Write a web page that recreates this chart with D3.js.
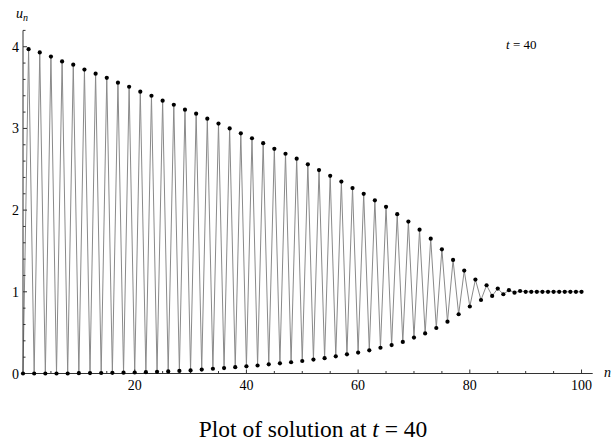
<!DOCTYPE html>
<html>
<head>
<meta charset="utf-8">
<script src="https://cdn.jsdelivr.net/npm/d3@7"></script>
<style>
  body { margin: 0; background: #fff; }
  svg text { font-family: "Liberation Serif", "DejaVu Serif", serif; }
</style>
</head>
<body>
<svg id="chart" width="616" height="443"></svg>
<script>
// u_n at t = 40, for n = 0 .. 100 (index = n)
const uValues = [
  0.00,
  3.97, 0.000, 3.93, 0.000, 3.88, 0.000, 3.82, 0.000, 3.78, 0.004,
  3.72, 0.005, 3.67, 0.006, 3.62, 0.008, 3.56, 0.010, 3.51, 0.012,
  3.45, 0.016, 3.40, 0.020, 3.34, 0.025, 3.29, 0.032, 3.23, 0.038,
  3.18, 0.048, 3.12, 0.058, 3.06, 0.067, 3.00, 0.078, 2.94, 0.088,
  2.88, 0.098, 2.82, 0.112, 2.75, 0.125, 2.69, 0.138, 2.63, 0.153,
  2.56, 0.170, 2.49, 0.188, 2.42, 0.210, 2.35, 0.235, 2.27, 0.256,
  2.20, 0.284, 2.12, 0.315, 2.04, 0.348, 1.95, 0.386, 1.86, 0.440,
  1.76, 0.490, 1.65, 0.557, 1.52, 0.634, 1.39, 0.725, 1.26, 0.820,
  1.15, 0.900, 1.08, 0.950, 1.04, 0.970, 1.02, 0.990, 1.01, 1.000,
  1.00, 1.000, 1.00, 1.000, 1.00, 1.000, 1.00, 1.000, 1.00, 1.000
];
const xMajorTicks = [20, 40, 60, 80, 100];
const xMinorTicks = [5, 10, 15, 25, 30, 35, 45, 50, 55, 65, 70, 75, 85, 90, 95];
const yMajorTicks = [0, 1, 2, 3, 4];
const yMinorTicks = [0.2, 0.4, 0.6, 0.8, 1.2, 1.4, 1.6, 1.8, 2.2, 2.4, 2.6, 2.8,
                     3.2, 3.4, 3.6, 3.8, 4.2];

const svg = d3.select('#chart');
const serif = '"Liberation Serif", "DejaVu Serif", serif';

const x = d3.scaleLinear().domain([0, 102]).range([23, 592.7]);
const y = d3.scaleLinear().domain([0, 4.2]).range([373.5, 30.4]);

const axisColor = '#333';

// data line
const line = d3.line()
    .x((d, i) => x(i))
    .y(d => y(d));

svg.append('path')
    .datum(uValues)
    .attr('d', line)
    .attr('fill', 'none')
    .attr('stroke', '#8a8a8a')
    .attr('stroke-width', 1);

// x axis (ticks point up)
const xAxis = svg.append('g').attr('class', 'x-axis');
xAxis.append('line')
    .attr('x1', x(0)).attr('x2', x(102))
    .attr('y1', y(0)).attr('y2', y(0))
    .attr('stroke', axisColor).attr('stroke-width', 1);
xAxis.selectAll('.xmaj').data(xMajorTicks).join('line')
    .attr('x1', d => x(d)).attr('x2', d => x(d))
    .attr('y1', y(0)).attr('y2', y(0) - 4)
    .attr('stroke', axisColor);
xAxis.selectAll('.xmin').data(xMinorTicks).join('line')
    .attr('x1', d => x(d)).attr('x2', d => x(d))
    .attr('y1', y(0)).attr('y2', y(0) - 2.5)
    .attr('stroke', axisColor);
xAxis.selectAll('text').data(xMajorTicks).join('text')
    .attr('x', d => x(d))
    .attr('y', y(0) + 16)
    .attr('text-anchor', 'middle')
    .attr('font-family', serif)
    .style('font-size', '14px')
    .text(d => d);

// y axis
const yAxis = svg.append('g').attr('class', 'y-axis');
yAxis.append('line')
    .attr('x1', x(0)).attr('x2', x(0))
    .attr('y1', y(0)).attr('y2', y(4.2))
    .attr('stroke', axisColor).attr('stroke-width', 1);
yAxis.selectAll('.ymaj').data(yMajorTicks).join('line')
    .attr('x1', x(0)).attr('x2', x(0) + 4)
    .attr('y1', d => y(d)).attr('y2', d => y(d))
    .attr('stroke', axisColor);
yAxis.selectAll('.ymin').data(yMinorTicks).join('line')
    .attr('x1', x(0)).attr('x2', x(0) + 2.5)
    .attr('y1', d => y(d)).attr('y2', d => y(d))
    .attr('stroke', axisColor);
yAxis.selectAll('text').data(yMajorTicks).join('text')
    .attr('x', x(0) - 4)
    .attr('y', d => y(d) + 5)
    .attr('text-anchor', 'end')
    .attr('font-family', serif)
    .style('font-size', '14px')
    .text(d => d);

// points
svg.append('g').selectAll('circle').data(uValues).join('circle')
    .attr('cx', (d, i) => x(i))
    .attr('cy', d => y(d))
    .attr('r', 2.1)
    .attr('fill', '#000');

// axis labels
const uLabel = svg.append('text')
    .attr('x', 16).attr('y', 18)
    .attr('font-family', serif)
    .style('font-size', '14px')
    .style('font-style', 'italic');
uLabel.append('tspan').text('u');
uLabel.append('tspan').attr('dy', 3).style('font-size', '10px').text('n');

svg.append('text')
    .attr('x', 604).attr('y', 377)
    .attr('font-family', serif)
    .style('font-size', '14px')
    .style('font-style', 'italic')
    .text('n');

// time annotation
const tLabel = svg.append('text')
    .attr('x', 506).attr('y', 49)
    .attr('font-family', serif)
    .style('font-size', '13px');
tLabel.append('tspan').style('font-style', 'italic').text('t');
tLabel.append('tspan').text(' = 40');

// caption
const cap = svg.append('text')
    .attr('x', 313).attr('y', 437)
    .attr('text-anchor', 'middle')
    .attr('font-family', serif)
    .style('font-size', '23.5px');
cap.append('tspan').text('Plot of solution at ');
cap.append('tspan').style('font-style', 'italic').text('t');
cap.append('tspan').text(' = 40');
</script>
</body>
</html>
